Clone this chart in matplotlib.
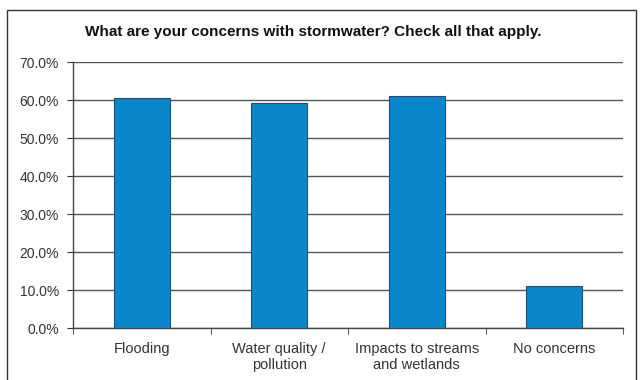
import numpy as np
import matplotlib.pyplot as plt
from matplotlib.patches import Rectangle
from matplotlib.ticker import FixedLocator, PercentFormatter

# Data
categories = ["Flooding", "Water quality /\npollution", "Impacts to streams\nand wetlands", "No concerns"]
percent = [60.5, 59.1, 61.0, 11.1]
yticks = [0, 10, 20, 30, 40, 50, 60, 70]

plt.rcParams['font.family'] = ['Liberation Sans', 'DejaVu Sans']

fig = plt.figure(figsize=(6.42, 3.80), dpi=100)
ax = fig.add_axes([73 / 642, 1 - 328 / 380, 550 / 642, 266 / 380])

x = np.arange(len(categories))
ax.bar(x, percent, width=0.41, color='#0a87cb', edgecolor='#1d4f7c', linewidth=0.8, zorder=3)

ax.set_xlim(-0.5, len(categories) - 0.5)
ax.set_ylim(0, 70)
ax.set_yticks(yticks)
ax.yaxis.set_major_formatter(PercentFormatter(decimals=1))
ax.grid(axis='y', color='#555555', linewidth=1.0, zorder=1)

# labels at centres, tick marks at category boundaries
ax.set_xticks(x)
ax.set_xticklabels(categories, linespacing=1.15)
ax.xaxis.set_minor_locator(FixedLocator(np.arange(-0.5, len(categories), 1.0)))
ax.tick_params(axis='x', which='major', length=0, pad=10, labelsize=10.5, colors='#333333')
ax.tick_params(axis='x', which='minor', length=4, color='#333333')
ax.tick_params(axis='y', length=4.5, color='#333333', pad=5.5, labelsize=10, labelcolor='#333333')

for s in ['top', 'right']:
    ax.spines[s].set_visible(False)
for s in ['left', 'bottom']:
    ax.spines[s].set_color('#444444')
    ax.spines[s].set_linewidth(1.0)

fig.text(313 / 642, 1 - 32 / 380, "What are your concerns with stormwater? Check all that apply.",
         ha='center', va='center', fontsize=11, fontweight='bold', color='#111111')

# outer frame
fig.patches.append(Rectangle((7 / 642, -0.05), 629 / 642, 1.05 - 10 / 380, transform=fig.transFigure,
                             fill=False, edgecolor='#333333', linewidth=1.0))

fig.savefig('out.png', dpi=100)
